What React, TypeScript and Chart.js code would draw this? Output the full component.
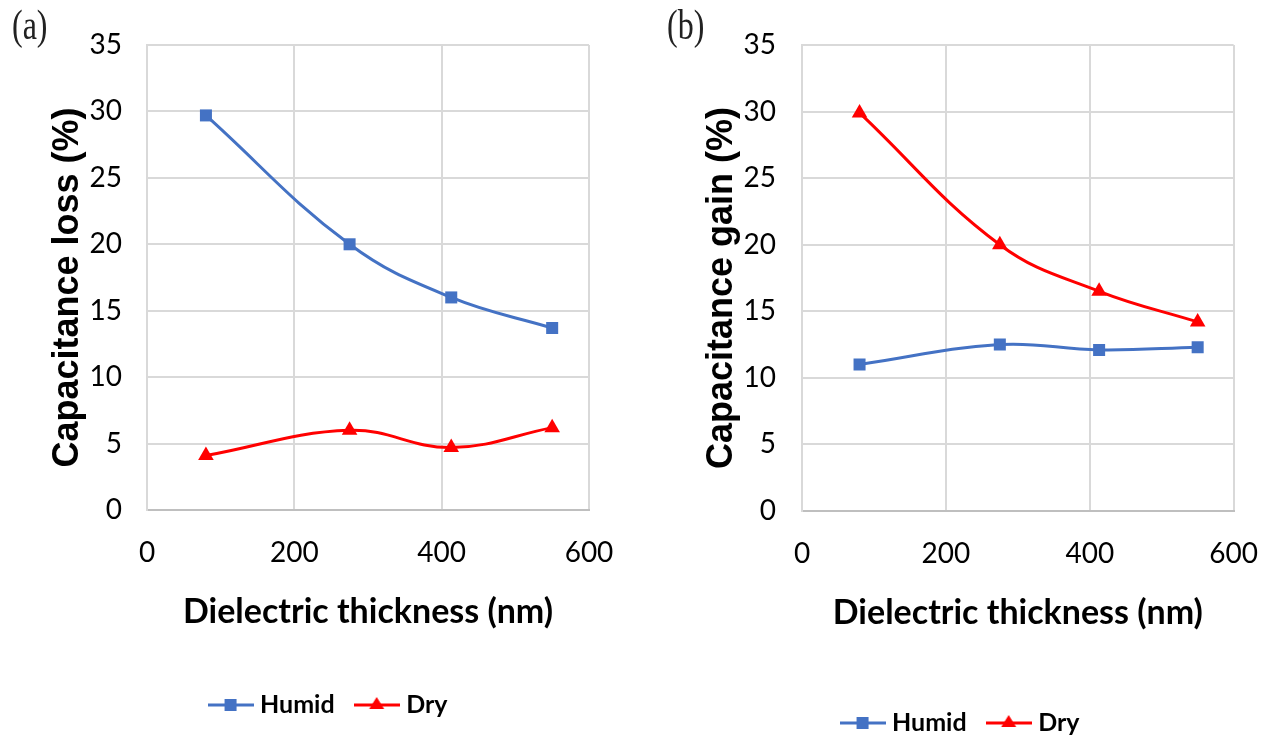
import React, { useEffect, useRef } from "react";
import { Chart, registerables } from "chart.js";

Chart.register(...registerables);

// ---- data ----
const thicknessNm = [80, 275, 413, 550];
const lossHumid = [29.7, 20.0, 16.0, 13.7];
const lossDry = [4.1, 6.0, 4.7, 6.2];
const gainHumid = [11.0, 12.5, 12.1, 12.3];
const gainDry = [29.9, 20.0, 16.5, 14.2];
const seriesLabels = ["Humid", "Dry"];
const xAxisTitle = "Dielectric thickness (nm)";
const yTitleLoss = "Capacitance loss (%)  ";
const yTitleGain = "Capacitance gain (%)  ";
const panelLabels = ["(a)", "(b)"];
const xTickMin = 0;
const xTickMax = 600;
const xTickStep = 200;
const yTickMin = 0;
const yTickMax = 35;
const yTickStep = 5;

const BLUE = "#4472C4";
const RED = "#FF0000";
const NARROW = "Lato, 'Liberation Sans', sans-serif";
const WIDE = "'Liberation Sans', Arial, sans-serif";

function makeIcon(color: string, kind: "rect" | "triangle") {
  const c = document.createElement("canvas");
  c.width = 46;
  c.height = 18;
  const g = c.getContext("2d")!;
  g.strokeStyle = color;
  g.lineWidth = 3;
  g.beginPath();
  g.moveTo(0, 9);
  g.lineTo(46, 9);
  g.stroke();
  g.fillStyle = color;
  if (kind === "rect") {
    g.fillRect(17, 3, 12, 12);
  } else {
    g.beginPath();
    g.moveTo(23, 1);
    g.lineTo(30.5, 13);
    g.lineTo(15.5, 13);
    g.closePath();
    g.fill();
  }
  return c;
}

type Geo = {
  width: number;
  height: number;
  padL: number;
  padR: number;
  padT: number;
  padB: number;
  yW: number;
  yTitlePad: number;
  yTickPad: number;
  xH: number;
  xTitlePad: number;
  xTickPad: number;
};

function Panel(props: {
  humid: number[];
  dry: number[];
  yTitle: string;
  geo: Geo;
  left: number;
}) {
  const ref = useRef<HTMLCanvasElement>(null);
  const { humid, dry, yTitle, geo, left } = props;
  useEffect(() => {
    const icons = [makeIcon(BLUE, "rect"), makeIcon(RED, "triangle")];
    const chart = new Chart(ref.current!, {
      type: "line",
      data: {
        datasets: [
          {
            label: seriesLabels[0],
            data: thicknessNm.map((x, i) => ({ x, y: humid[i] })),
            borderColor: BLUE,
            backgroundColor: BLUE,
            borderWidth: 3,
            pointStyle: "rect",
            pointRadius: 8.5,
            pointBorderWidth: 0,
            tension: 0.4,
          },
          {
            label: seriesLabels[1],
            data: thicknessNm.map((x, i) => ({ x, y: dry[i] })),
            borderColor: RED,
            backgroundColor: RED,
            borderWidth: 3,
            pointStyle: "triangle",
            pointRadius: 9,
            pointBorderWidth: 0,
            tension: 0.4,
          },
        ],
      },
      options: {
        responsive: false,
        animation: false,
        devicePixelRatio: 1,
        layout: {
          padding: { left: geo.padL, right: geo.padR, top: geo.padT, bottom: geo.padB },
        },
        plugins: {
          tooltip: { enabled: false },
          legend: {
            position: "bottom",
            labels: {
              usePointStyle: true,
              pointStyleWidth: 34,
              padding: 25,
              color: "#000",
              font: { family: NARROW, size: 25, weight: "bold", lineHeight: 1.2 },
              generateLabels: (c: any) => {
                const items = (Chart.defaults.plugins.legend.labels as any).generateLabels(c);
                return items.map((it: any, i: number) => ({ ...it, pointStyle: icons[i], fontColor: "#000" }));
              },
            },
          },
        },
        scales: {
          x: {
            type: "linear",
            position: "bottom",
            min: xTickMin,
            max: xTickMax,
            ticks: {
              stepSize: xTickStep,
              color: "#000",
              padding: geo.xTickPad,
              font: { family: NARROW, size: 28, lineHeight: 1.2 },
            },
            grid: { color: "#d9d9d9", lineWidth: 2, drawTicks: false },
            border: { color: "#bfbfbf", width: 2 },
            title: {
              display: true,
              text: xAxisTitle,
              color: "#000",
              padding: { top: 0, bottom: geo.xTitlePad },
              font: { family: NARROW, size: 34, weight: "bold", lineHeight: 1.2 },
            },
            afterFit: (s: any) => {
              s.height = geo.xH;
            },
          },
          y: {
            type: "linear",
            min: yTickMin,
            max: yTickMax,
            ticks: {
              stepSize: yTickStep,
              color: "#000",
              padding: geo.yTickPad,
              font: { family: NARROW, size: 28, lineHeight: 1.2 },
            },
            grid: { color: "#d9d9d9", lineWidth: 2, drawTicks: false },
            border: { color: "#d9d9d9", width: 2 },
            title: {
              display: true,
              text: yTitle,
              color: "#000",
              padding: { top: geo.yTitlePad, bottom: 0 },
              font: { family: WIDE, size: 36, weight: "bold", lineHeight: 1.2 },
            },
            afterFit: (s: any) => {
              s.width = geo.yW;
            },
          },
        },
      } as any,
    });
    return () => chart.destroy();
  }, []);
  return (
    <canvas
      ref={ref}
      width={geo.width}
      height={geo.height}
      style={{ position: "absolute", left, top: 0, width: geo.width, height: geo.height }}
    />
  );
}

const geoA: Geo = {
  width: 642,
  height: 742,
  padL: 72,
  padR: 53,
  padT: 45,
  padB: 14.5,
  yW: 75,
  yTitlePad: -26,
  yTickPad: 25,
  xH: 157.5,
  xTitlePad: 35,
  xTickPad: 26,
};

const geoB: Geo = {
  width: 642,
  height: 760,
  padL: 39,
  padR: 40,
  padT: 45,
  padB: 14.5,
  yW: 121,
  yTitlePad: 19.4,
  yTickPad: 26,
  xH: 174.5,
  xTitlePad: 52,
  xTickPad: 26,
};

const labelStyle = (left: number): React.CSSProperties => ({
  position: "absolute",
  left,
  top: 0,
  fontFamily: "'Liberation Serif', 'DejaVu Serif', serif",
  fontSize: 32,
  lineHeight: "38px",
  color: "#222",
  transform: "scaleY(1.3)",
  transformOrigin: "top left",
});

export default function App() {
  return (
    <div
      style={{
        position: "absolute",
        left: 0,
        top: 0,
        width: 1284,
        height: 742,
        overflow: "hidden",
        background: "#fff",
      }}
    >
      <Panel humid={lossHumid} dry={lossDry} yTitle={yTitleLoss} geo={geoA} left={0} />
      <Panel humid={gainHumid} dry={gainDry} yTitle={yTitleGain} geo={geoB} left={642} />
      <div style={labelStyle(12)}>{panelLabels[0]}</div>
      <div style={labelStyle(667)}>{panelLabels[1]}</div>
    </div>
  );
}
